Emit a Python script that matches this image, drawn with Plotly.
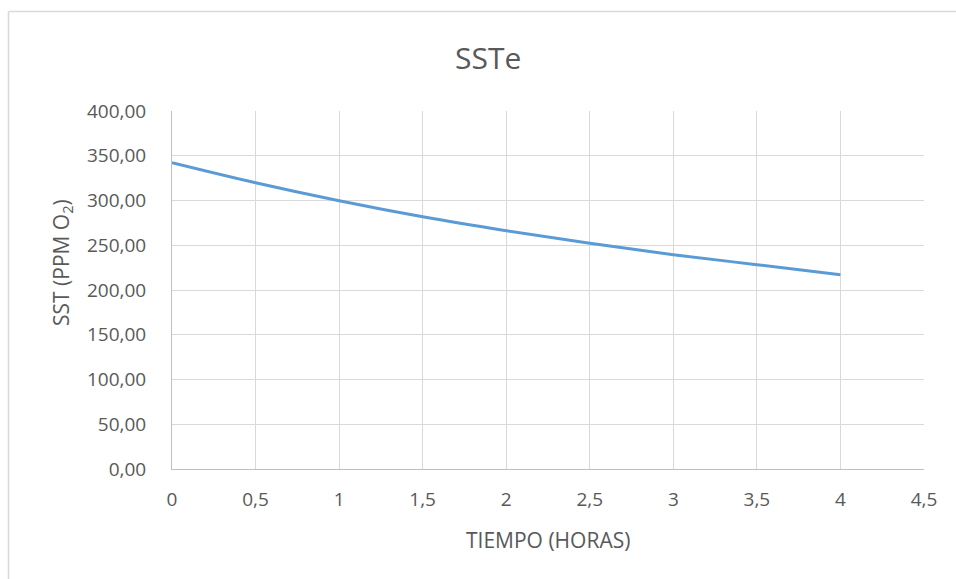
import plotly.graph_objects as go

tiempo = [0, 0.5, 1, 1.5, 2, 2.5, 3, 3.5, 4]
sst = [342.3, 319.9, 299.8, 281.9, 266.3, 252.2, 239.4, 228.3, 217.1]

x_ticks = [0, 0.5, 1, 1.5, 2, 2.5, 3, 3.5, 4, 4.5]
x_tick_labels = ["0", "0,5", "1", "1,5", "2", "2,5", "3", "3,5", "4", "4,5"]
y_ticks = [0, 50, 100, 150, 200, 250, 300, 350, 400]
y_tick_labels = ["0,00", "50,00", "100,00", "150,00", "200,00", "250,00", "300,00", "350,00", "400,00"]

FONT = "Open Sans, Lato, sans-serif"
GRAY = "#595959"

W, H = 956, 579
L, R, T, B = 172, 32, 111, 110
pw, ph = W - L - R, H - T - B

def px_x(p):
    return (p - L) / pw

def px_y(p):
    return (H - B - p) / ph

fig = go.Figure()
fig.add_trace(go.Scatter(
    x=tiempo, y=sst, mode="lines",
    line=dict(color="#5B9BD5", width=3, shape="spline"),
    hoverinfo="x+y", showlegend=False,
))

fig.update_layout(
    width=W, height=H,
    margin=dict(l=L, r=R, t=T, b=B, pad=0),
    paper_bgcolor="white", plot_bgcolor="white",
    font=dict(family=FONT, color=GRAY, size=19),
    xaxis=dict(
        range=[0, 4.5], tickvals=x_ticks, ticktext=x_tick_labels,
        showgrid=True, gridcolor="#D9D9D9", gridwidth=1,
        showline=True, linecolor="#BFBFBF", linewidth=1,
        zeroline=False, ticks="", ticklabelstandoff=13,
        tickfont=dict(family=FONT, size=19, color=GRAY),
        mirror=False,
    ),
    yaxis=dict(
        range=[0, 400], tickvals=y_ticks, ticktext=y_tick_labels,
        showgrid=True, gridcolor="#D9D9D9", gridwidth=1,
        showline=True, linecolor="#BFBFBF", linewidth=1,
        zeroline=False, ticks="", ticklabelstandoff=21,
        tickfont=dict(family=FONT, size=19, color=GRAY),
    ),
    annotations=[
        dict(text="SSTe", x=px_x(488), y=px_y(57), xref="paper", yref="paper",
             showarrow=False, xanchor="center", yanchor="middle",
             font=dict(family=FONT, size=30, color=GRAY)),
        dict(text="TIEMPO (HORAS)", x=px_x(548), y=px_y(540), xref="paper", yref="paper",
             showarrow=False, xanchor="center", yanchor="middle",
             font=dict(family=FONT, size=21, color=GRAY)),
        dict(text="SST (PPM O<sub>2</sub>)", x=px_x(62), y=px_y(263), xref="paper", yref="paper",
             showarrow=False, xanchor="center", yanchor="middle", textangle=-90,
             font=dict(family=FONT, size=21, color=GRAY)),
    ],
    shapes=[
        dict(type="line", xref="paper", yref="paper",
             x0=px_x(8.5), x1=px_x(8.5), y0=px_y(11.5), y1=px_y(600),
             line=dict(color="#D9D9D9", width=1.5)),
        dict(type="line", xref="paper", yref="paper",
             x0=px_x(8.5), x1=px_x(980), y0=px_y(11.5), y1=px_y(11.5),
             line=dict(color="#D9D9D9", width=1.5)),
    ],
)

fig.write_html("out.html")
